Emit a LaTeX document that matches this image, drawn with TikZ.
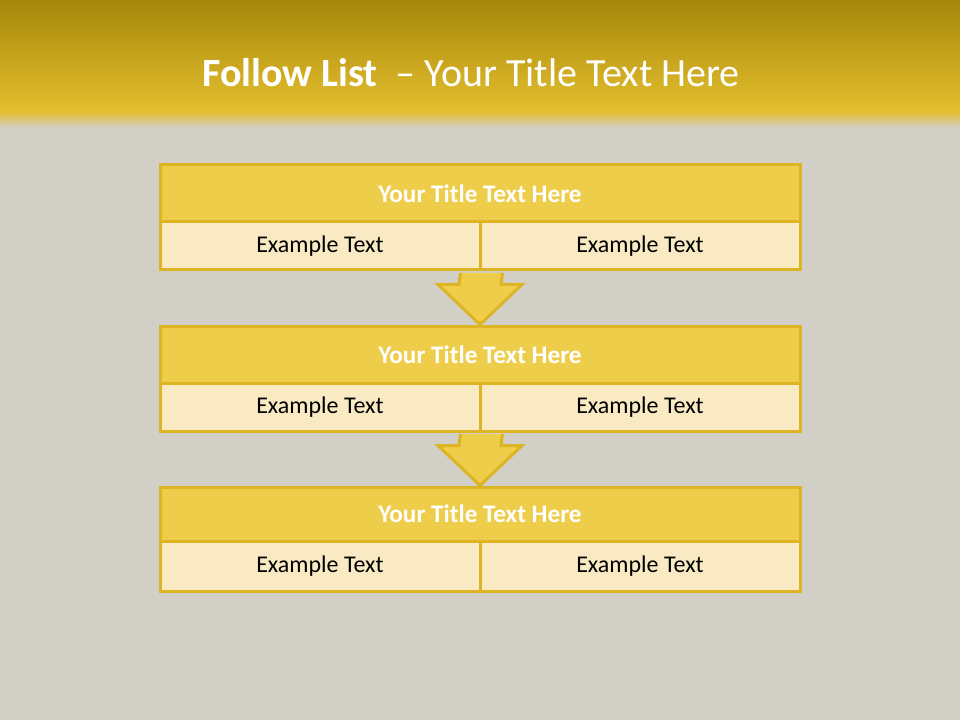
\documentclass[tikz,border=0pt]{standalone}
\usepackage{fontspec}
\setmainfont{Carlito}
\usetikzlibrary{calc}
\definecolor{bggray}{HTML}{D2CFC7}
\definecolor{goldtop}{HTML}{A6870A}
\definecolor{goldbot}{HTML}{E4BF2E}
\definecolor{hdrfill}{HTML}{EECD4B}
\definecolor{bodyfill}{HTML}{F9EAC4}
\definecolor{edge}{HTML}{DDB424}
\tikzset{
  boxhead/.style={draw=edge, fill=hdrfill, line width=2.25pt, minimum width=480pt,
    text=white, font=\fontsize{18.9}{22}\selectfont\bfseries, inner sep=0pt},
  boxcell/.style={draw=edge, fill=bodyfill, line width=2.25pt, minimum width=240pt,
    text=black, font=\fontsize{18}{22}\selectfont, inner sep=0pt},
  blockarrow/.style={fill=hdrfill},
  blockedge/.style={draw=edge, line width=2.25pt, line join=miter}
}
\begin{document}
\begin{tikzpicture}[x=0.75pt,y=-0.75pt]
\useasboundingbox (0,0) rectangle (960,720);
\fill[bggray] (0,0) rectangle (960,720);
\shade[top color=goldtop, bottom color=goldbot] (0,0) rectangle (960,112);
\shade[top color=goldbot, bottom color=bggray] (0,111.5) rectangle (960,128);
\node[font=\fontsize{30}{36}\selectfont, text=white, anchor=base] (title) at (471,87)
  {\textbf{Follow List}\ \ – Your Title Text Here};
% box 1
\node[boxhead, minimum height=42.75pt] (t1) at (480,193.5) {Your Title Text Here};
\node[boxcell, minimum height=36pt] (l1) at (320,246) {Example Text};
\node[boxcell, minimum height=36pt] (r1) at (640,246) {Example Text};
% box 2
\node[boxhead, minimum height=42.75pt] (t2) at (480,354.5) {Your Title Text Here};
\node[boxcell, minimum height=36pt] (l2) at (320,407) {Example Text};
\node[boxcell, minimum height=36pt] (r2) at (640,407) {Example Text};
% box 3
\node[boxhead, minimum height=40.5pt] (t3) at (480,514) {Your Title Text Here};
\node[boxcell, minimum height=37.5pt] (l3) at (320,566) {Example Text};
\node[boxcell, minimum height=37.5pt] (r3) at (640,566) {Example Text};
% arrows
\foreach \a/\b in {l1/t2, l2/t3}{
  \coordinate (top) at ($(\a.south east)+(0,1.5)$);
  \coordinate (tip) at (\b.north);
  \coordinate (hb) at ($(tip)+(0,-40)$);
  \fill[blockarrow] ($(top)+(-21,0)$) -- ($(hb)+(-21,0)$) -- ($(hb)+(-42,0)$) -- (tip)
     -- ($(hb)+(42,0)$) -- ($(hb)+(21,0)$) -- ($(top)+(21,0)$) -- cycle;
  \draw[blockedge] ($(top)+(-21,0)$) -- ($(hb)+(-21,0)$) -- ($(hb)+(-42,0)$) -- (tip)
     -- ($(hb)+(42,0)$) -- ($(hb)+(21,0)$) -- ($(top)+(21,0)$);
}
\end{tikzpicture}
\end{document}
